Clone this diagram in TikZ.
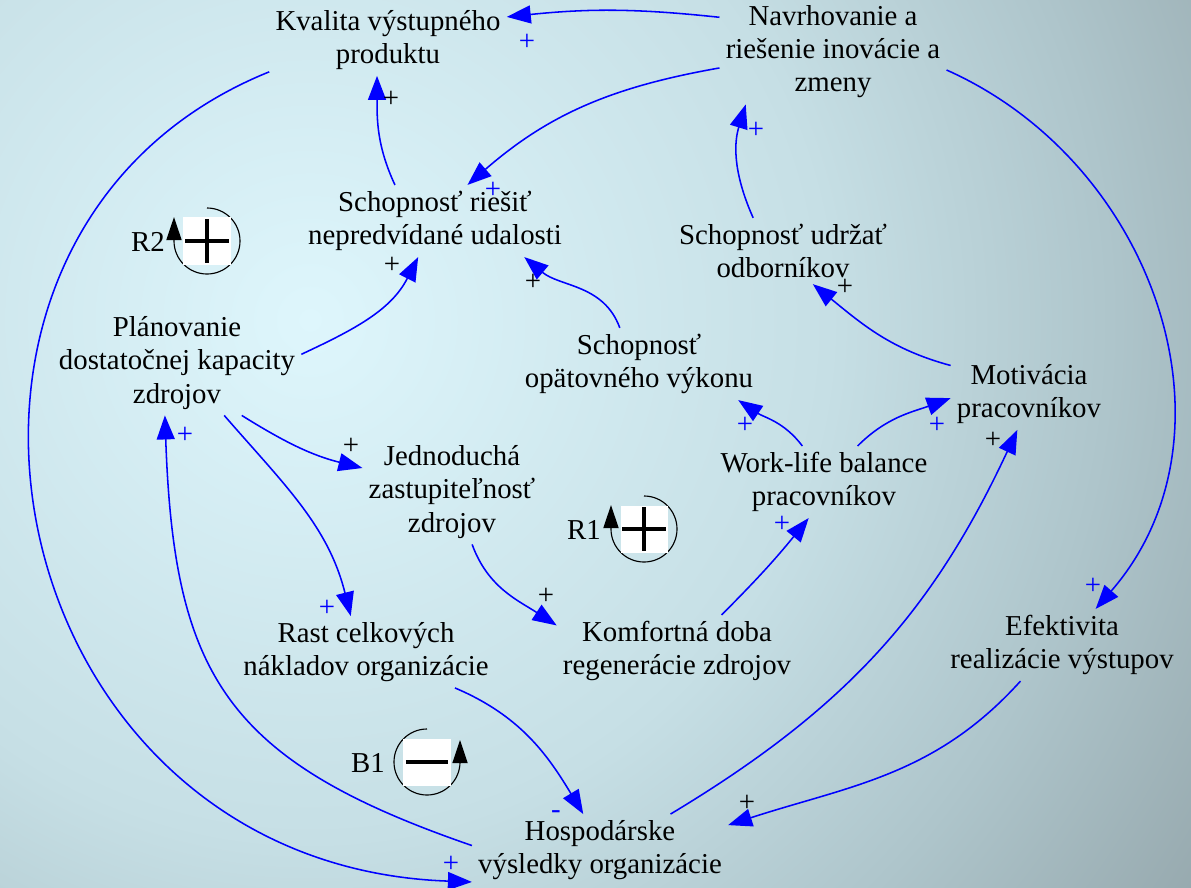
\documentclass[tikz,border=0pt]{standalone}
\usepackage{fontspec}
\setmainfont{Liberation Serif}
\usetikzlibrary{arrows.meta}

\definecolor{bgin}{RGB}{222,246,252}
\definecolor{bgmid}{RGB}{198,223,229}
\definecolor{bgdim}{RGB}{174,197,203}
\definecolor{bggray}{RGB}{145,162,167}
\definecolor{bgout}{RGB}{132,149,153}
\pgfdeclareradialshading{bgglow}{\pgfpoint{0bp}{0bp}}{color(0bp)=(bgin); color(6.5bp)=(bgmid); color(10bp)=(bgdim); color(14bp)=(bggray); color(17bp)=(bgout); color(50bp)=(bgout)}

\tikzset{
	var/.style={align=center, inner sep=0.15cm},
	link/.style={draw=blue, line width=1.1pt, -{Triangle[length=0.6cm, width=0.45cm]}},
	sgn/.style={inner sep=0pt},
	loopbox/.style={fill=white, minimum size=1.175cm, inner sep=0pt},
	loopplus/.style={loopbox, path picture={
		\draw[line width=2.2pt] ([xshift=-0.54cm]path picture bounding box.center) -- ([xshift=0.54cm]path picture bounding box.center)
			([yshift=-0.54cm]path picture bounding box.center) -- ([yshift=0.54cm]path picture bounding box.center);}},
	loopminus/.style={loopbox, path picture={
		\draw[line width=2.4pt] ([xshift=-0.53cm]path picture bounding box.center) -- ([xshift=0.53cm]path picture bounding box.center);}},
	looparc/.style={draw=black, line width=0.8pt, -{Triangle[length=0.58cm, width=0.38cm]}},
}

\begin{document}
\begin{tikzpicture}[x=0.025cm, y=-0.025cm, every node/.style={font=\fontsize{20.5}{23.5}\selectfont}]
	%Background
		\useasboundingbox (0,0) rectangle (1191,888);
		\begin{scope}
			\clip (0,0) rectangle (1191,888);
			\shade[shading=bgglow] (310,320) circle (50cm);
		\end{scope}
	%Variables
		\node[var] (kval) at (388,40) {Kvalita výstupného\\produktu};
		\node[var] (nav) at (833,52) {Navrhovanie a\\riešenie inovácie a\\zmeny};
		\node[var] (resit) at (435,221) {Schopnosť riešiť\\nepredvídané udalosti};
		\node[var] (udrz) at (783,251) {Schopnosť udržať\\odborníkov};
		\node[var] (plan) at (177,363) {Plánovanie\\dostatočnej kapacity\\zdrojov};
		\node[var] (opat) at (639,364) {Schopnosť\\opätovného výkonu};
		\node[var] (motiv) at (1029,394) {Motivácia\\pracovníkov};
		\node[var] (jedn) at (452,492) {Jednoduchá\\zastupiteľnosť\\zdrojov};
		\node[var] (wlb) at (824,482) {Work-life balance\\pracovníkov};
		\node[var] (efek) at (1062,645) {Efektivita\\realizácie výstupov};
		\node[var] (rast) at (366,652) {Rast celkových\\nákladov organizácie};
		\node[var] (komf) at (677,651) {Komfortná doba\\regenerácie zdrojov};
		\node[var] (hosp) at (600,850) {Hospodárske\\výsledky organizácie};
	%Links
		\draw[link] (nav.163) to[bend right=6] (kval.11);
		\draw[link] (nav.188) to[out=190, in=41] (resit.48);
		\draw[link] (resit.138) to[out=115, in=-90] (kval.253);
		\draw[link] (udrz.132) to[out=114, in=253] (nav.211);
		\draw[link] (plan.4) to[out=25, in=243] (resit.245);
		\draw[link] (opat.118) to[out=110, in=-40] (resit.338);
		\draw[link] (motiv.160) to[out=165, in=-39] (udrz.312);
		\draw[link] (wlb.121) to[out=127, in=-34] (opat.340);
		\draw[link] (wlb.47) to[out=45, in=200] (motiv.183);
		\draw[link] (plan.321) to[out=-32, in=166] (jedn.165);
		\draw[link] (plan.312) to[out=-49, in=104] (rast.113);
		\draw[link] (jedn.291) to[out=-70, in=147] (komf.168);
		\draw[link] (komf.39) to[out=45, in=231] (wlb.247);
		\draw[link] (rast.338) to[out=-23, in=121] (hosp.115);
		\draw[link] (efek.221) to[out=228, in=18] (hosp.11);
		\draw[link] (hosp.27) to[out=31, in=245] (motiv.252);
		\draw[link] (nav.351) to[out=-24, in=49, looseness=1.05] (efek.47);
		\draw[link] (kval.195) to[out=202, in=178, out distance=10.75cm, in distance=12cm] (hosp.194);
		\draw[link] (hosp.178) to[out=161, in=-88, distance=6.5cm] (plan.257);
	%Link signs
		\node[sgn, blue] (snavkval) at (527,42) {+};
		\node[sgn, blue] (snavresit) at (493,190) {+};
		\node[sgn] (sresitkval) at (391,99) {+};
		\node[sgn, blue] (sudrznav) at (756,130) {+};
		\node[sgn] (splanresit) at (392,265) {+};
		\node[sgn] (sopatresit) at (533,282) {+};
		\node[sgn] (smotivudrz) at (845,287) {+};
		\node[sgn, blue] (swlbopat) at (745,425) {+};
		\node[sgn, blue] (swlbmotiv) at (937,425) {+};
		\node[sgn] (splanjedn) at (351,446) {+};
		\node[sgn, blue] (splanrast) at (327,608) {+};
		\node[sgn] (sjednkomf) at (546,596) {+};
		\node[sgn, blue] (skomfwlb) at (782,524) {+};
		\node[sgn, blue] (sresthosp) at (556,815) {-};
		\node[sgn] (sefekhosp) at (747,803) {+};
		\node[sgn] (shospmotiv) at (993,440) {+};
		\node[sgn, blue] (snavefek) at (1093,586) {+};
		\node[sgn, blue] (skvalhosp) at (451,864) {+};
		\node[sgn, blue] (shospplan) at (185,435) {+};
	%Loop R2
		\coordinate (r2c) at (207,241);
		\draw[looparc] ([shift={(90:0.825cm)}]r2c) arc[start angle=90, end angle=-180, radius=0.825cm] -- ++(0,-24);
		\node[loopplus] (r2) at (r2c) {};
		\node (r2lbl) at (148,242) {R2};
	%Loop R1
		\coordinate (r1c) at (644,529);
		\draw[looparc] ([shift={(90:0.825cm)}]r1c) arc[start angle=90, end angle=-180, radius=0.825cm] -- ++(0,-24);
		\node[loopplus] (r1) at (r1c) {};
		\node (r1lbl) at (584,530) {R1};
	%Loop B1
		\coordinate (b1c) at (427,762);
		\draw[looparc] ([shift={(90:0.825cm)}]b1c) arc[start angle=90, end angle=360, radius=0.825cm] -- ++(0,-22);
		\node[loopminus] (b1) at (b1c) {};
		\node (b1lbl) at (368,763) {B1};
\end{tikzpicture}
\end{document}
